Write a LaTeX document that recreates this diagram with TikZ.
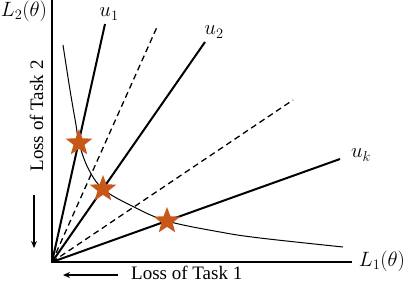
\documentclass[tikz,border=0pt]{standalone}
\usepackage{fontspec}
\setmainfont{Liberation Serif}
\usetikzlibrary{shapes.geometric,arrows.meta}
\definecolor{starc}{RGB}{200,88,26}
\tikzset{
  axis/.style={line width=2.2pt},
  ray/.style={line width=2pt},
  dray/.style={line width=1.3pt,dash pattern=on 6pt off 4pt},
  front/.style={line width=1pt},
  sol/.style={star,star points=5,star point ratio=2.4,fill=starc,draw=none,inner sep=0pt,minimum size=28pt},
  mlab/.style={inner sep=0pt,font=\fontsize{20}{24}\selectfont},
  tlab/.style={inner sep=0pt,font=\fontsize{19}{22}\selectfont},
  harrow/.style={line width=1.5pt,-{Stealth[length=7pt,width=6pt]}}
}
\begin{document}
\begin{tikzpicture}[x=1pt,y=-1pt]
\useasboundingbox (0,0) rectangle (406,284);
\coordinate (O) at (52,262);
\coordinate (ytop) at (52,0);
\coordinate (xend) at (352,262);
\coordinate (e1) at (105,24);
\coordinate (d1) at (157,27);
\coordinate (e2) at (205,42);
\coordinate (d2) at (293,100);
\coordinate (ek) at (340,159);
% rays
\draw[ray] (O) -- (e1);
\draw[dray] (O) -- (d1);
\draw[ray] (O) -- (e2);
\draw[dray] (O) -- (d2);
\draw[ray] (O) -- (ek);
% Pareto front
\draw[front] plot[smooth,tension=0.6] coordinates {(63,45) (70,90) (76,125) (79,143) (88,168) (103,189) (132,206) (167,221) (220,232) (260,238) (343,247)};
% axes
\draw[axis] (ytop) -- (O) -- (xend);
% stars
\node[sol] (s1) at (79,143) {};
\node[sol] (s2) at (103,189) {};
\node[sol] (s3) at (167,221) {};
% labels
\node[mlab] (l2) at (24,11) {$L_2(\theta)$};
\node[mlab] (l1) at (382,261) {$L_1(\theta)$};
\node[mlab] (u1) at (109,14) {$u_1$};
\node[mlab] (u2) at (214,32) {$u_2$};
\node[mlab] (uk) at (361,155) {$u_k$};
\node[tlab,anchor=base west] (t1) at (131,279) {Loss of Task 1};
\node[tlab,anchor=base,rotate=90] (t2) at (43,116) {Loss of Task 2};
% direction arrows
\coordinate (a1s) at (118,275);
\coordinate (a1e) at (63,275);
\coordinate (a2s) at (34,195);
\coordinate (a2e) at (34,248);
\draw[harrow] (a1s) -- (a1e);
\draw[harrow] (a2s) -- (a2e);
\end{tikzpicture}
\end{document}
